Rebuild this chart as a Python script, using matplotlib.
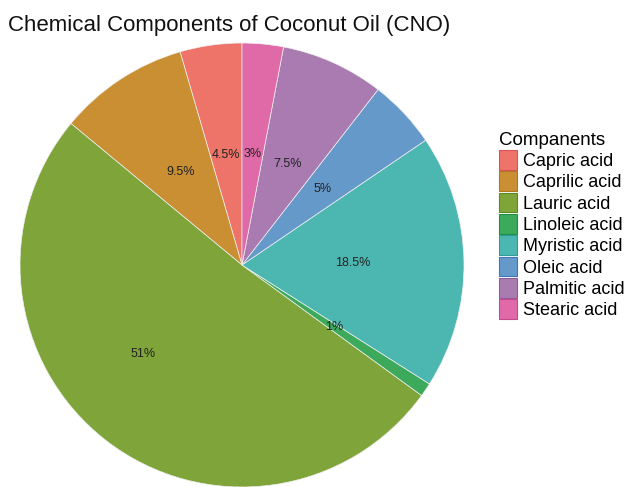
import matplotlib.pyplot as plt
import numpy as np

plt.rcParams["font.family"] = ["Liberation Sans", "DejaVu Sans"]

components = ["Capric acid", "Caprilic acid", "Lauric acid", "Linoleic acid",
              "Myristic acid", "Oleic acid", "Palmitic acid", "Stearic acid"]
percent = [4.5, 9.5, 51, 1, 18.5, 5, 7.5, 3]
labels = ["4.5%", "9.5%", "51%", "1%", "18.5%", "5%", "7.5%", "3%"]
colors = ["#EE7368", "#C98F32", "#7FA53A", "#3DAA5B",
          "#4CB6B1", "#6599CA", "#AA7BB1", "#E06AA8"]
edges = ["#D9515A", "#B07820", "#5E8A22", "#1E9040",
         "#2E9C98", "#3E78B8", "#8C5E98", "#C8488E"]

fig = plt.figure(figsize=(6.37, 4.87), dpi=100)
ax = fig.add_axes([20 / 637, 0 / 487, 444 / 637, 444 / 487])

wedges, texts = ax.pie(percent, colors=colors, startangle=90, counterclock=True,
                       labels=labels, labeldistance=0.5,
                       wedgeprops=dict(edgecolor="#f0f0f0", linewidth=0.5),
                       textprops=dict(fontsize=9, color="#222222", ha="center", va="center"))
# the big slice label sits a bit further out in the original
ang = np.deg2rad(222)
texts[2].set_position((0.6 * np.cos(ang), 0.6 * np.sin(ang)))
ax.set_xlim(-1, 1)
ax.set_ylim(-1, 1)
ax.set_aspect("equal")

fig.text(8 / 637, 1 - 25 / 487, "Chemical Components of Coconut Oil (CNO)",
         fontsize=16, va="center", ha="left", color="#111111")

handles = [plt.Rectangle((0, 0), 1, 1, facecolor=c, edgecolor=e, linewidth=0.8)
           for c, e in zip(colors, edges)]
leg = fig.legend(handles, components, title="Companents", loc="upper left",
                 bbox_to_anchor=(486 / 637, 1 - 119 / 487), frameon=False,
                 fontsize=13, title_fontsize=13.5, handlelength=1.0,
                 handleheight=1.3, handletextpad=0.35, labelspacing=0.08,
                 borderpad=0.2)
leg._legend_box.align = "left"

fig.savefig("out.png", dpi=100, facecolor="white")
